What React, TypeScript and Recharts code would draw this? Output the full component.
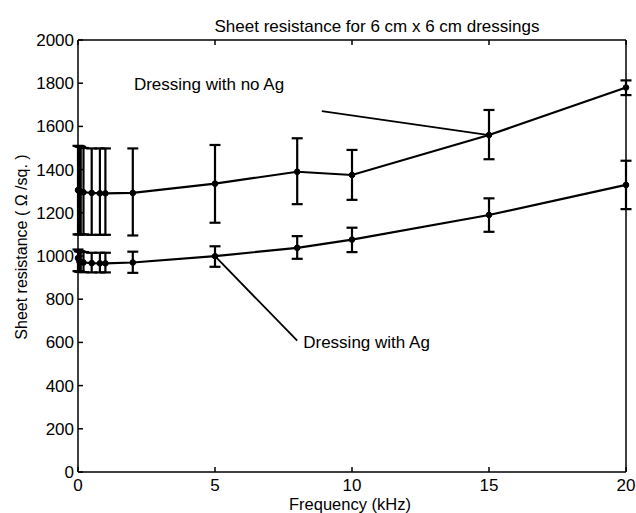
import { ComposedChart, Line, XAxis, YAxis, ErrorBar, ReferenceLine, ReferenceDot, Label } from "recharts"

// frequency in kHz
const frequency = [0, 0.05, 0.1, 0.2, 0.5, 0.8, 1, 2, 5, 8, 10, 15, 20]

// dressing with no Ag (ohm/sq.)
const noAgMean = [1305, 1300, 1298, 1295, 1292, 1290, 1290, 1292, 1335, 1390, 1375, 1560, 1780]
const noAgLow = [1100, 1100, 1100, 1100, 1098, 1098, 1098, 1095, 1154, 1240, 1260, 1448, 1745]
const noAgHigh = [1510, 1508, 1505, 1500, 1498, 1498, 1498, 1498, 1514, 1545, 1491, 1676, 1813]

// dressing with Ag (ohm/sq.)
const agMean = [990, 975, 972, 970, 967, 966, 966, 970, 999, 1038, 1076, 1190, 1329]
const agLow = [930, 928, 926, 925, 924, 924, 924, 922, 950, 987, 1018, 1112, 1217]
const agHigh = [1030, 1022, 1020, 1018, 1015, 1015, 1015, 1020, 1045, 1092, 1131, 1267, 1441]

const xTicks = [0, 5, 10, 15, 20]
const yTicks = [0, 200, 400, 600, 800, 1000, 1200, 1400, 1600, 1800, 2000]

// annotation anchors, in data units
const noAgNote = { text: "Dressing with no Ag", x: 2.04, y: 1795 }
const noAgArrow = [{ x: 8.9, y: 1671 }, { x: 15, y: 1560 }]
const agNote = { text: "Dressing with Ag", x: 8.22, y: 602 }
const agArrow = [{ x: 5, y: 999 }, { x: 8.0, y: 608 }]

const font = "'Liberation Sans', Arial, Helvetica, sans-serif"

const rows = frequency.map((f, i) => ({
  f,
  noAg: noAgMean[i],
  noAgErr: [noAgMean[i] - noAgLow[i], noAgHigh[i] - noAgMean[i]],
  ag: agMean[i],
  agErr: [agMean[i] - agLow[i], agHigh[i] - agMean[i]],
}))

const tickStyle = { fill: "#000", fontSize: 17, fontFamily: font }
const axisLine = { stroke: "#000", strokeWidth: 1.5 }
const tickLine = { stroke: "#000", strokeWidth: 1.5 }

export default function App() {
  return (
    <div style={{ position: "absolute", left: 0, top: 0, background: "#fff" }}>
      <ComposedChart width={636} height={513} data={rows} margin={{ top: 0, right: 0, bottom: 0, left: 0 }}>
        <XAxis
          dataKey="f"
          type="number"
          domain={[0, 20]}
          ticks={xTicks}
          height={41}
          tickSize={-5}
          tickMargin={12}
          tick={tickStyle}
          axisLine={axisLine}
          tickLine={tickLine}
        >
          <Label
            content={() => (
              <text x={350} y={510} textAnchor="middle" fontSize={16.5} fontFamily={font} fill="#000">
                Frequency (kHz)
              </text>
            )}
          />
        </XAxis>
        <XAxis
          xAxisId="top"
          orientation="top"
          dataKey="f"
          type="number"
          domain={[0, 20]}
          ticks={xTicks}
          height={40}
          tickSize={-5}
          tickFormatter={() => ""}
          axisLine={axisLine}
          tickLine={tickLine}
        >
          <Label
            content={() => (
              <text x={377} y={32} textAnchor="middle" fontSize={17} fontFamily={font} fill="#000">
                Sheet resistance for 6 cm x 6 cm dressings
              </text>
            )}
          />
        </XAxis>
        <YAxis
          type="number"
          domain={[0, 2000]}
          ticks={yTicks}
          width={78}
          tickSize={-5}
          tickMargin={9}
          tick={tickStyle}
          axisLine={axisLine}
          tickLine={tickLine}
        >
          <Label
            content={() => (
              <text
                x={27}
                y={247}
                transform="rotate(-90 27 247)"
                textAnchor="middle"
                fontSize={16}
                fontFamily={font}
                fill="#000"
              >
                Sheet resistance ( Ω /sq. )
              </text>
            )}
          />
        </YAxis>
        <YAxis
          yAxisId="right"
          orientation="right"
          type="number"
          domain={[0, 2000]}
          ticks={yTicks}
          width={10}
          tickSize={-5}
          tickFormatter={() => ""}
          axisLine={axisLine}
          tickLine={tickLine}
        />

        <Line
          dataKey="noAg"
          stroke="#000"
          strokeWidth={2.2}
          dot={{ r: 2.8, fill: "#000", stroke: "#000", strokeWidth: 1 }}
          activeDot={false}
          isAnimationActive={false}
        >
          <ErrorBar dataKey="noAgErr" direction="y" width={5.5} stroke="#000" strokeWidth={2.2} />
        </Line>
        <Line
          dataKey="ag"
          stroke="#000"
          strokeWidth={2.2}
          dot={{ r: 2.8, fill: "#000", stroke: "#000", strokeWidth: 1 }}
          activeDot={false}
          isAnimationActive={false}
        >
          <ErrorBar dataKey="agErr" direction="y" width={5.5} stroke="#000" strokeWidth={2.2} />
        </Line>

        <ReferenceLine segment={noAgArrow} stroke="#000" strokeWidth={1.8} />
        <ReferenceLine segment={agArrow} stroke="#000" strokeWidth={1.8} />
        <ReferenceDot
          x={noAgNote.x}
          y={noAgNote.y}
          r={0}
          fill="none"
          stroke="none"
          label={{ value: noAgNote.text, position: "right", offset: 0, fill: "#000", fontSize: 17, fontFamily: font }}
        />
        <ReferenceDot
          x={agNote.x}
          y={agNote.y}
          r={0}
          fill="none"
          stroke="none"
          label={{ value: agNote.text, position: "right", offset: 0, fill: "#000", fontSize: 17, fontFamily: font }}
        />
      </ComposedChart>
    </div>
  )
}
